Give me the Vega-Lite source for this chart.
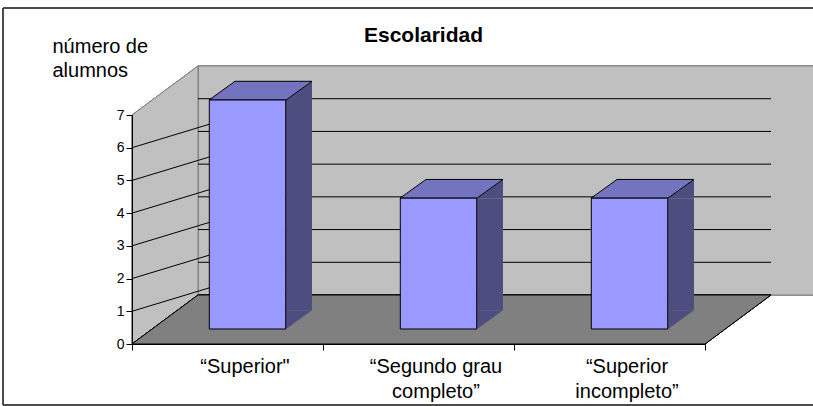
{
  "$schema": "https://vega.github.io/schema/vega-lite/v6.json",
  "width": 573,
  "height": 229,
  "autosize": {"type": "none"},
  "padding": {"left": 132, "top": 115, "right": 108, "bottom": 62},
  "background": "white",
  "config": {"view": {"stroke": null}, "font": "Liberation Sans"},
  "title": {"text": "Escolaridad", "font": "Liberation Sans", "fontSize": 21, "fontWeight": "bold", "color": "black", "anchor": "middle", "dx": 5, "dy": 42},
  "datasets": {
    "escolaridad": [
      {"escolaridad": "“Superior\"", "alumnos": 7},
      {"escolaridad": "“Segundo grau completo”", "alumnos": 4},
      {"escolaridad": "“Superior incompleto”", "alumnos": 4}
    ],
    "niveles": [{"nivel": 1}, {"nivel": 2}, {"nivel": 3}, {"nivel": 4}, {"nivel": 5}, {"nivel": 6}]
  },
  "data": {"name": "escolaridad"},
  "layer": [
    {
      "mark": {"type": "rect", "fill": null, "stroke": "#333333", "strokeWidth": 1, "xOffset": -129, "x2Offset": 680, "yOffset": -107, "y2Offset": 61},
      "encoding": {
        "x": {"datum": "“Superior\"", "type": "nominal", "bandPosition": 0},
        "x2": {"datum": "“Superior\""},
        "y": {"datum": 7, "type": "quantitative"},
        "y2": {"datum": 0}
      }
    },
    {
      "mark": {"type": "rect", "fill": "#C0C0C0", "stroke": "#808080", "strokeWidth": 1, "xOffset": 66, "x2Offset": 639, "yOffset": -49, "y2Offset": -49},
      "encoding": {
        "x": {"datum": "“Superior\"", "type": "nominal", "bandPosition": 0},
        "x2": {"datum": "“Superior\""},
        "y": {"datum": 0, "type": "quantitative"},
        "y2": {"datum": 7}
      }
    },
    {
      "mark": {"type": "point", "filled": true, "opacity": 1, "size": 4, "fill": "#C0C0C0", "stroke": "#808080", "strokeWidth": 1, "shape": "M0,0L0,-229L66,-278L66,-49Z"},
      "encoding": {
        "x": {"datum": "“Superior\"", "type": "nominal", "bandPosition": 0},
        "y": {"datum": 0, "type": "quantitative"}
      }
    },
    {
      "data": {"name": "niveles"},
      "mark": {"type": "rule", "color": "#000000", "strokeWidth": 1, "xOffset": 66, "x2Offset": 543.5, "yOffset": -49, "y2Offset": -49},
      "encoding": {
        "x": {"datum": "“Superior\"", "type": "nominal", "bandPosition": 0},
        "x2": {"datum": "“Superior\""},
        "y": {"field": "nivel", "type": "quantitative"},
        "y2": {"field": "nivel"}
      }
    },
    {
      "data": {"name": "niveles"},
      "mark": {"type": "rule", "color": "#000000", "strokeWidth": 1, "x2Offset": 66, "y2Offset": -49},
      "encoding": {
        "x": {"datum": "“Superior\"", "type": "nominal", "bandPosition": 0},
        "x2": {"datum": "“Superior\""},
        "y": {"field": "nivel", "type": "quantitative"},
        "y2": {"field": "nivel"}
      }
    },
    {
      "mark": {"type": "point", "filled": true, "opacity": 1, "size": 4, "fill": "#808080", "stroke": "#000000", "strokeWidth": 1, "shape": "M0,0L573,0L639,-49L66,-49Z"},
      "encoding": {
        "x": {"datum": "“Superior\"", "type": "nominal", "bandPosition": 0},
        "y": {"datum": 0, "type": "quantitative"}
      }
    },
    {
      "mark": {"type": "bar", "fill": "#4D4D80", "width": 26, "xOffset": 71.5, "yOffset": -15, "y2Offset": -33.7},
      "encoding": {
        "x": {"field": "escolaridad", "type": "nominal"},
        "y": {"field": "alumnos", "type": "quantitative"},
        "y2": {"datum": 0}
      }
    },
    {
      "mark": {"type": "point", "filled": true, "opacity": 1, "size": 4, "fill": "#4D4D80", "strokeWidth": 0, "xOffset": 20, "yOffset": -15, "shape": "M38.5,0L64.5,-18.7L64.5,0Z"},
      "encoding": {
        "x": {"field": "escolaridad", "type": "nominal"},
        "y": {"field": "alumnos", "type": "quantitative"}
      }
    },
    {
      "mark": {"type": "point", "filled": true, "opacity": 1, "size": 4, "fill": "#4D4D80", "strokeWidth": 0, "xOffset": 20, "yOffset": -15, "shape": "M38.5,0L38.5,-18.7L64.5,-18.7Z"},
      "encoding": {
        "x": {"field": "escolaridad", "type": "nominal"},
        "y": {"datum": 0, "type": "quantitative"}
      }
    },
    {
      "mark": {"type": "point", "filled": true, "opacity": 1, "size": 4, "fill": "#7373BF", "stroke": "#000000", "strokeWidth": 1, "xOffset": 20, "yOffset": -15, "shape": "M-38.5,0L38.5,0L64.5,-18.7L-12.5,-18.7Z"},
      "encoding": {
        "x": {"field": "escolaridad", "type": "nominal"},
        "y": {"field": "alumnos", "type": "quantitative"}
      }
    },
    {
      "mark": {"type": "bar", "fill": "#9999FF", "stroke": "#000000", "strokeWidth": 1, "width": {"band": 0.4}, "xOffset": 20, "yOffset": -15, "y2Offset": -15},
      "encoding": {
        "x": {
          "field": "escolaridad",
          "type": "nominal",
          "scale": {"domain": ["“Superior\"", "“Segundo grau completo”", "“Superior incompleto”"], "paddingInner": 0, "paddingOuter": 0},
          "axis": {
            "title": null,
            "labelAngle": 0,
            "labelAlign": "center",
            "labelOffset": 17,
            "tickBand": "extent",
            "domainColor": "#000000",
            "tickColor": "#000000",
            "tickSize": 6,
            "labelFont": "Liberation Sans",
            "labelFontSize": 20,
            "labelColor": "#000000",
            "labelPadding": 16,
            "labelLineHeight": 25,
            "labelExpr": "indexof(datum.label, ' ') < 0 ? datum.label : [slice(datum.label, 0, lastindexof(datum.label, ' ')), slice(datum.label, lastindexof(datum.label, ' ') + 1)]",
            "grid": false,
            "zindex": 1
          }
        },
        "y": {
          "field": "alumnos",
          "type": "quantitative",
          "scale": {"domain": [0, 7], "nice": false},
          "axis": {
            "title": ["número de", "alumnos"],
            "titleAngle": 0,
            "titleAlign": "left",
            "titleBaseline": "alphabetic",
            "titleX": -80,
            "titleY": -63,
            "titleFont": "Liberation Sans",
            "titleFontSize": 20,
            "titleFontWeight": "normal",
            "titleColor": "#000000",
            "titleLineHeight": 24,
            "values": [0, 1, 2, 3, 4, 5, 6, 7],
            "tickCount": 8,
            "labelOverlap": false,
            "labelFont": "Liberation Sans",
            "labelFontSize": 14,
            "labelColor": "#000000",
            "labelPadding": 2,
            "tickSize": 6,
            "tickColor": "#000000",
            "domainColor": "#000000",
            "grid": false,
            "zindex": 1
          }
        },
        "y2": {"datum": 0}
      }
    }
  ]
}
